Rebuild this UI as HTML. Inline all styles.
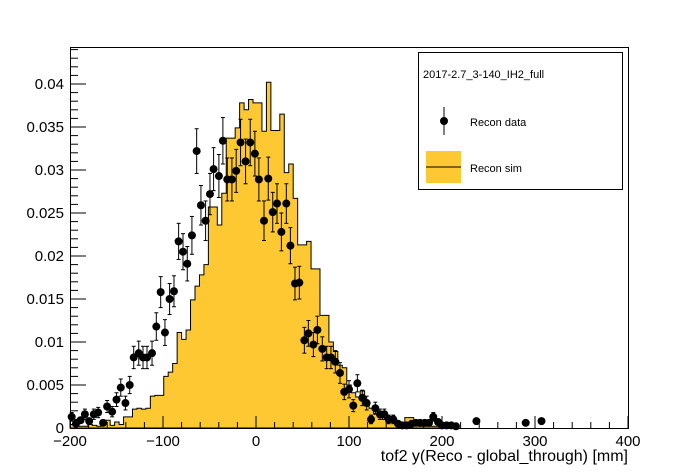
<!DOCTYPE html>
<html><head><meta charset="utf-8"><style>
body{margin:0;background:#fff;}
svg{display:block;font-family:"Liberation Sans",Arial,sans-serif;}
</style></head><body>
<svg id="chart" width="698" height="476" viewBox="0 0 698 476" xmlns="http://www.w3.org/2000/svg">
<rect x="0" y="0" width="698" height="476" fill="#fff"/>
<g id="sim"></g>
<g id="data"></g>
<g id="axes"></g>
<g>
<rect x="418.5" y="52.5" width="204" height="137" fill="#fff" stroke="#000" stroke-width="1"/>
<text x="423" y="78" font-size="11">2017-2.7_3-140_IH2_full</text>
<line x1="444" y1="107" x2="444" y2="135" stroke="#000" stroke-width="1"/>
<circle cx="444" cy="121" r="4" fill="#000"/>
<text x="470" y="126" font-size="11">Recon data</text>
<rect x="426" y="151" width="35" height="32" fill="#fdc831"/>
<line x1="426" y1="167" x2="461" y2="167" stroke="#000" stroke-width="1"/>
<text x="470" y="172" font-size="11">Recon sim</text>
</g>
</svg>
<script>
// Simulation histogram: 125 bins of 4.8 mm from -200, values in units of 1e-3
const simValues = [0.4,0.4,0.2,0.2,0.4,0.3,0.2,0.4,0.9,0.3,0.7,0.4,1.3,1.3,2.2,2.3,2.2,2.3,3.7,3.8,3.8,6.0,6.5,7.5,11.1,10.3,11.4,14.9,16.5,17.8,19.0,25.7,25.7,23.6,27.3,33.7,33.7,34.9,37.8,37.0,38.2,37.8,37.8,34.5,40.2,34.6,34.6,36.5,29.7,30.7,26.7,21.3,21.3,21.7,18.5,18.5,13.1,13.1,10.0,8.9,7.3,7.0,5.0,4.1,3.6,4.3,3.0,2.3,1.7,1.2,1.0,1.0,1.0,0.4,0.3,1.2,1.2,0.3,0.2,0.2,0.2,0.2,0.2,0.1,0.1,0.1];
const dataX = [-198.2,-193.6,-188.7,-184,-179.4,-174.4,-169.7,-164.4,-160.1,-154.7,-150,-145.4,-140.4,-135.8,-131.5,-126.1,-121.5,-117.2,-111.8,-107.2,-102.5,-97.9,-92.9,-88.2,-83.2,-78.5,-73.9,-68.9,-63.8,-59.2,-54.2,-49.5,-45.6,-39.9,-35.6,-30.9,-25.9,-21.3,-16.6,-11.2,-6.2,-1.2,3.1,8.6,13.2,18.0,22.6,27.3,32.6,37.0,41.9,46.6,52.0,56.3,61.7,66.0,71.3,76.0,80.6,85.3,90.3,94.9,100,104.6,109,114.3,119,123.7,128.3,133.3,138,142.7,147.6,152.7,157.3,162,167.4,172,176.5,181.5,186,190.6,195.7,200,205,210,215,237,290,307];
const dataY = [1.3,0.5,0.9,1.6,0.8,1.6,1.8,0.6,2.5,1.9,3.3,4.7,2.9,5.0,8.2,8.7,8.2,8.2,8.7,11.8,15.8,11.1,15.0,15.9,21.7,20.5,19.1,22.4,32.2,25.9,24.1,27.2,30.1,29.3,33.4,28.9,28.9,29.9,33.2,31.0,33.2,31.9,28.9,24.1,29.0,25.1,26.1,22.8,26.1,21.2,16.8,16.9,10.2,11.0,9.7,11.4,9.2,8.2,8.2,7.7,6.4,4.2,4.5,2.6,5.2,3.5,2.9,1.0,2.3,1.6,1.6,1.0,1.0,0.5,0.3,0.3,0.5,0.6,0.6,0.6,0.6,1.3,0.7,0.3,0.3,0.3,0.2,0.8,0.6,0.8];
const dataErr = [0.5,0.3,0.4,0.6,0.4,0.6,0.6,0.4,0.7,0.6,0.8,1.0,0.8,1.0,1.3,1.4,1.3,1.3,1.4,1.6,1.8,1.5,1.8,1.8,2.1,2.1,2.0,2.2,2.6,2.3,2.3,2.4,2.5,2.5,2.7,2.5,2.5,2.5,2.7,2.6,2.7,2.6,2.5,2.3,2.5,2.3,2.3,2.2,2.3,2.1,1.9,1.9,1.5,1.5,1.4,1.6,1.4,1.3,1.3,1.3,1.2,0.9,1.0,0.7,1.0,0.9,0.8,0.5,0.7,0.6,0.6,0.5,0.5,0.3,0.3,0.3,0.3,0.4,0.4,0.4,0.4,0.5,0.4,0.3,0.3,0.3,0.2,0.4,0.4,0.4];
const xTicks = [-200,-100,0,100,200,300,400];
const xTickLabels = ["\u2212200","\u2212100","0","100","200","300","400"];
const yTicks = [0,5,10,15,20,25,30,35,40];
const yTickLabels = ["0","0.005","0.01","0.015","0.02","0.025","0.03","0.035","0.04"];

const X0=70, X1=628, Y0=428, Y1=47;
const xs = v => X0 + (v+200)/600*(X1-X0);
const ys = v => Y0 - v*(43/5);
const NS="http://www.w3.org/2000/svg";
function mk(tag, attrs, parent){const e=document.createElementNS(NS,tag);for(const k in attrs)e.setAttribute(k,attrs[k]);parent.appendChild(e);return e;}

const simG=document.getElementById('sim');
let d=`M${xs(-200)},${ys(0)}`;
simValues.forEach((v,i)=>{const a=-200+4.8*i,b=a+4.8;d+=` L${xs(a).toFixed(2)},${ys(v).toFixed(2)} L${xs(b).toFixed(2)},${ys(v).toFixed(2)}`;});
d+=` L${xs(-200+4.8*simValues.length).toFixed(2)},${ys(0)} Z`;
const hp=mk('path',{d:d,fill:'#fdc831',stroke:'#000','stroke-width':1},simG);



const dG=document.getElementById('data');
dataX.forEach((x,i)=>{
  const cx=xs(x), cy=ys(dataY[i]), e=dataErr[i]*43/5;
  const g=mk('g',{},dG);
  
  
  mk('line',{x1:cx,x2:cx,y1:Math.min(Y0,cy+e),y2:cy-e,stroke:'#000','stroke-width':1},g);
  if(e>4){mk('line',{x1:cx-2,x2:cx+2,y1:cy-e,y2:cy-e,stroke:'#000'},g);mk('line',{x1:cx-2,x2:cx+2,y1:Math.min(Y0,cy+e),y2:Math.min(Y0,cy+e),stroke:'#000'},g);}
  mk('circle',{cx:cx,cy:cy,r:4,fill:'#000'},g);
});

const aG=document.getElementById('axes');
mk('rect',{x:X0+0.5,y:Y1+0.5,width:X1-X0,height:Y0-Y1,fill:'none',stroke:'#000','stroke-width':1},aG);
for(let v=-200;v<=400;v+=20){const x=xs(v);const major=(v%100===0);mk('line',{x1:x,x2:x,y1:Y0,y2:Y0-(major?12:6),stroke:'#000'},aG);}
for(let v=0;v<=44;v+=1){if(ys(v)<Y1)break;const y=ys(v);const major=(v%5===0);mk('line',{x1:X0,x2:X0+(major?16:8),y1:y,y2:y,stroke:'#000'},aG);}
xTicks.forEach((v,i)=>{const t=mk('text',{x:xs(v),y:Y0+18,'font-size':15,'text-anchor':'middle'},aG);t.textContent=xTickLabels[i];
  
  });
yTicks.forEach((v,i)=>{const t=mk('text',{x:64,y:ys(v)+5,'font-size':15,'text-anchor':'end'},aG);t.textContent=yTickLabels[i];
  
  });
const xt=mk('text',{x:X1,y:461,'font-size':16,'text-anchor':'end'},aG);
xt.textContent='tof2 y(Reco - global_through) [mm]';


</script>
</body></html>
